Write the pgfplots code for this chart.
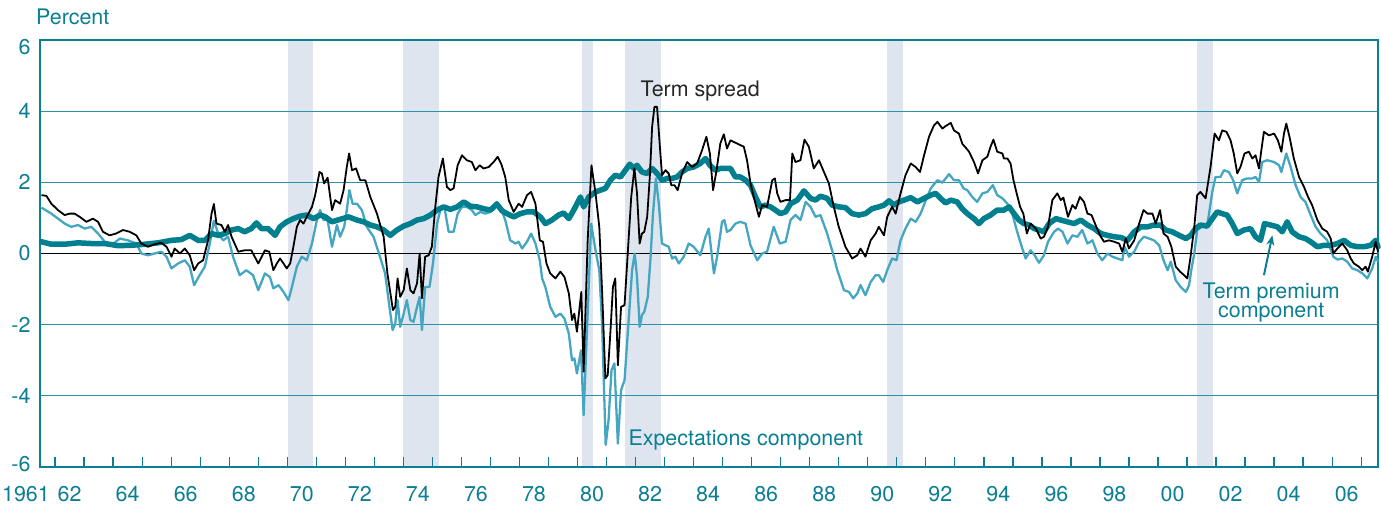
\documentclass[border=0pt]{standalone}
\usepackage{fontspec}
\setmainfont{TeX Gyre Heros}
\usepackage{pgfplots}
\pgfplotsset{compat=1.18}
\usetikzlibrary{arrows.meta}
\definecolor{tealA}{HTML}{0A7E92}
\definecolor{gridc}{HTML}{2A93A8}
\definecolor{premc}{HTML}{007F8E}
\definecolor{expc}{HTML}{45A6C1}
\definecolor{bandc}{HTML}{DEE5EE}
\newcommand{\lf}{\fontsize{21.5}{25}\selectfont}
\begin{document}
\begin{tikzpicture}
\begin{axis}[
  set layers,
  scale only axis,
  width=1338bp, height=427bp,
  xmin=1961.48, xmax=2007.58,
  ymin=-6, ymax=6,
  clip=false,
  no markers,
  axis line style={draw=tealA, line width=2.8bp},
  xtick={1962,1963,...,2007},
  xticklabels={},
  xtick pos=left,
  tick align=inside,
  major tick length=10bp,
  xtick style={draw=tealA, line width=1.3bp},
  extra x ticks={1962.5,1964.5,1966.5,1968.5,1970.5,1972.5,1974.5,1976.5,1978.5,1980.5,1982.5,1984.5,1986.5,1988.5,1990.5,1992.5,1994.5,1996.5,1998.5,2000.5,2002.5,2004.5,2006.5},
  extra x tick labels={62,64,66,68,70,72,74,76,78,80,82,84,86,88,90,92,94,96,98,00,02,04,06},
  extra x tick style={major tick length=0pt, xticklabel style={anchor=base, yshift=-34bp}},
  ytick={-6,-4,-2,0,2,4,6},
  yticklabels={\raisebox{3bp}{-6},-4,-2,0,2,4,\raisebox{-7bp}{6}},
  ytick pos=left,
  ytick style={draw=none},
  yticklabel style={anchor=base east, xshift=-6bp, yshift=-7.5bp},
  ticklabel style={font=\lf, text=tealA},
  ymajorgrids,
  grid style={draw=gridc, line width=1.2bp},
  extra y ticks={0},
  extra y tick labels={},
  extra y tick style={grid style={draw=black, line width=1.8bp}},
]
% recession bands
\addplot[fill=bandc, draw=none, on layer=axis background] coordinates {(1970.04,-6) (1970.04,6) (1970.87,6) (1970.87,-6)};
\addplot[fill=bandc, draw=none, on layer=axis background] coordinates {(1973.97,-6) (1973.97,6) (1975.21,6) (1975.21,-6)};
\addplot[fill=bandc, draw=none, on layer=axis background] coordinates {(1980.16,-6) (1980.16,6) (1980.54,6) (1980.54,-6)};
\addplot[fill=bandc, draw=none, on layer=axis background] coordinates {(1981.65,-6) (1981.65,6) (1982.89,6) (1982.89,-6)};
\addplot[fill=bandc, draw=none, on layer=axis background] coordinates {(1990.65,-6) (1990.65,6) (1991.22,6) (1991.22,-6)};
\addplot[fill=bandc, draw=none, on layer=axis background] coordinates {(2001.33,-6) (2001.33,6) (2001.90,6) (2001.90,-6)};
% Expectations component
\addplot[expc, line width=2.3bp, line join=round] table {
x y
1961.53 1.29
1961.87 1.12
1962.10 0.98
1962.33 0.84
1962.56 0.75
1962.79 0.80
1963.02 0.70
1963.25 0.75
1963.48 0.56
1963.71 0.33
1963.94 0.23
1964.23 0.42
1964.51 0.37
1964.80 0.28
1964.97 0.00
1965.20 -0.05
1965.43 0.00
1965.66 0.05
1965.84 -0.09
1966.01 -0.42
1966.24 -0.28
1966.47 -0.19
1966.64 -0.37
1966.79 -0.89
1966.98 -0.61
1967.16 -0.37
1967.33 0.28
1967.47 0.92
1967.62 0.56
1967.79 0.37
1967.96 0.47
1968.13 -0.09
1968.36 -0.61
1968.59 -0.47
1968.82 -0.61
1969.00 -1.03
1969.23 -0.56
1969.40 -0.66
1969.52 -0.98
1969.70 -0.89
1969.87 -1.08
1970.04 -1.31
1970.16 -0.94
1970.33 -0.37
1970.50 -0.09
1970.67 -0.19
1970.85 0.28
1971.02 0.94
1971.13 1.22
1971.25 0.94
1971.39 0.94
1971.54 0.19
1971.71 0.80
1971.82 0.47
1971.96 0.75
1972.05 1.22
1972.14 1.78
1972.25 1.40
1972.40 1.40
1972.57 1.22
1972.74 0.75
1972.97 0.47
1973.14 0.05
1973.37 -0.56
1973.52 -1.50
1973.63 -2.15
1973.72 -1.97
1973.80 -1.31
1973.89 -2.06
1974.01 -1.69
1974.12 -1.31
1974.24 -1.87
1974.35 -1.92
1974.47 -1.50
1974.56 -1.22
1974.64 -2.15
1974.75 -0.94
1974.90 -0.94
1975.02 -0.28
1975.16 0.84
1975.30 1.31
1975.41 1.31
1975.56 0.61
1975.73 0.61
1975.87 1.12
1976.02 1.31
1976.19 1.31
1976.36 1.22
1976.48 1.08
1976.65 1.17
1976.82 1.12
1977.00 1.17
1977.22 1.45
1977.34 1.31
1977.51 0.94
1977.68 0.37
1977.86 0.28
1977.97 0.33
1978.09 0.14
1978.26 0.33
1978.40 0.56
1978.55 0.28
1978.70 -0.19
1978.78 -0.70
1978.89 -0.94
1979.06 -1.50
1979.24 -1.78
1979.41 -1.69
1979.55 -1.83
1979.70 -2.25
1979.81 -3.00
1979.89 -2.95
1979.98 -3.37
1980.12 -2.72
1980.21 -4.54
1980.33 -2.06
1980.47 0.84
1980.62 0.09
1980.75 -0.47
1980.85 -2.06
1980.97 -5.38
1981.07 -4.68
1981.17 -3.28
1981.27 -3.09
1981.39 -5.34
1981.50 -3.84
1981.62 -3.56
1981.73 -2.25
1981.88 -0.47
1981.97 0.00
1982.05 -0.66
1982.14 -2.06
1982.22 -1.73
1982.30 -1.64
1982.42 -1.22
1982.51 -0.19
1982.60 1.12
1982.70 2.11
1982.80 1.40
1982.91 0.28
1983.03 0.23
1983.14 0.19
1983.26 -0.14
1983.37 -0.09
1983.49 -0.28
1983.66 -0.09
1983.83 0.28
1984.00 0.19
1984.23 -0.05
1984.41 0.47
1984.52 0.70
1984.70 -0.56
1984.81 -0.09
1984.98 0.89
1985.06 0.94
1985.15 0.61
1985.27 0.66
1985.44 0.84
1985.61 0.89
1985.79 0.84
1985.96 0.23
1986.19 -0.19
1986.36 0.00
1986.53 0.05
1986.76 0.75
1986.97 0.28
1987.17 0.33
1987.34 0.94
1987.51 1.08
1987.68 0.94
1987.86 1.45
1988.03 1.31
1988.20 1.03
1988.37 1.08
1988.60 0.56
1988.77 0.09
1988.95 -0.47
1989.18 -1.03
1989.35 -1.08
1989.50 -1.26
1989.64 -1.12
1989.75 -0.89
1989.92 -1.17
1990.10 -0.80
1990.27 -0.61
1990.38 -0.61
1990.53 -0.80
1990.67 -0.47
1990.84 -0.14
1990.99 -0.19
1991.13 0.37
1991.30 0.70
1991.48 0.98
1991.65 0.89
1991.82 1.12
1992.00 1.50
1992.17 1.83
1992.40 2.06
1992.57 1.99
1992.80 2.23
1992.97 2.06
1993.14 2.06
1993.30 1.83
1993.43 1.78
1993.60 1.59
1993.77 1.45
1993.95 1.69
1994.12 1.73
1994.31 1.92
1994.46 1.64
1994.64 1.55
1994.81 1.40
1994.98 1.12
1995.13 0.66
1995.27 0.28
1995.44 -0.14
1995.61 0.09
1995.75 -0.05
1995.90 -0.26
1996.07 -0.05
1996.21 0.33
1996.42 0.61
1996.56 0.70
1996.71 0.61
1996.88 0.28
1997.05 0.51
1997.22 0.47
1997.39 0.66
1997.57 0.28
1997.74 0.37
1997.91 0.00
1998.08 -0.19
1998.26 0.00
1998.43 -0.09
1998.60 -0.14
1998.77 -0.19
1998.85 0.19
1999.00 -0.09
1999.18 0.05
1999.35 0.33
1999.52 0.47
1999.69 0.42
1999.86 0.37
2000.04 0.23
2000.19 -0.19
2000.33 -0.47
2000.44 -0.23
2000.61 -0.75
2000.78 -0.94
2000.96 -1.08
2001.07 -0.89
2001.15 -0.45
2001.25 0.00
2001.35 0.66
2001.52 0.75
2001.69 0.75
2001.87 1.73
2001.98 2.15
2002.15 2.15
2002.27 2.34
2002.44 2.29
2002.59 2.06
2002.73 1.69
2002.90 2.06
2003.07 2.11
2003.25 2.11
2003.36 2.15
2003.48 2.01
2003.59 2.57
2003.76 2.62
2004.00 2.57
2004.17 2.48
2004.25 2.29
2004.42 2.81
2004.57 2.43
2004.74 1.92
2004.91 1.59
2005.08 1.45
2005.26 1.08
2005.43 0.75
2005.60 0.56
2005.83 0.37
2006.04 -0.09
2006.18 -0.17
2006.35 -0.14
2006.52 -0.23
2006.69 -0.42
2006.87 -0.47
2007.04 -0.56
2007.21 -0.70
2007.38 -0.42
2007.50 -0.09
2007.58 -0.23
};
% Term premium component
\addplot[premc, line width=5.5bp, line join=round, line cap=round] table {
x y
1961.53 0.33
1961.87 0.26
1962.33 0.26
1962.79 0.30
1963.25 0.28
1963.71 0.28
1964.17 0.22
1964.63 0.23
1965.09 0.26
1965.55 0.30
1966.01 0.37
1966.35 0.39
1966.64 0.51
1966.93 0.37
1967.16 0.37
1967.39 0.56
1967.62 0.51
1967.85 0.56
1968.08 0.66
1968.31 0.70
1968.53 0.61
1968.76 0.70
1968.94 0.86
1969.11 0.70
1969.34 0.70
1969.58 0.51
1969.75 0.75
1969.98 0.89
1970.21 0.98
1970.44 1.05
1970.67 1.08
1970.90 0.98
1971.13 1.08
1971.31 1.03
1971.54 0.89
1971.82 0.96
1972.11 1.03
1972.40 0.94
1972.63 0.89
1972.86 0.80
1973.09 0.75
1973.32 0.66
1973.55 0.51
1973.78 0.66
1974.01 0.77
1974.24 0.84
1974.47 0.94
1974.70 0.98
1974.93 1.08
1975.16 1.22
1975.39 1.31
1975.62 1.24
1975.85 1.31
1976.08 1.45
1976.31 1.33
1976.54 1.31
1976.76 1.26
1977.00 1.22
1977.22 1.39
1977.40 1.20
1977.57 1.12
1977.80 1.03
1978.03 1.12
1978.26 1.17
1978.49 1.17
1978.72 1.03
1978.89 0.84
1979.12 0.94
1979.35 1.08
1979.52 1.14
1979.70 0.98
1979.87 1.22
1980.10 1.59
1980.21 1.31
1980.39 1.59
1980.62 1.73
1980.79 1.78
1980.96 1.83
1981.13 2.06
1981.30 2.20
1981.48 2.15
1981.65 2.34
1981.80 2.51
1981.94 2.39
1982.05 2.48
1982.22 2.29
1982.40 2.25
1982.57 2.39
1982.74 2.25
1982.91 2.06
1983.09 2.11
1983.26 2.11
1983.43 2.15
1983.60 2.29
1983.78 2.39
1984.00 2.43
1984.23 2.53
1984.41 2.67
1984.56 2.48
1984.75 2.34
1984.92 2.39
1985.15 2.39
1985.27 2.39
1985.44 2.15
1985.61 2.15
1985.79 2.06
1985.96 1.92
1986.13 1.59
1986.30 1.31
1986.48 1.36
1986.65 1.31
1986.82 1.22
1986.99 1.12
1987.17 1.17
1987.34 1.40
1987.57 1.50
1987.80 1.76
1988.03 1.55
1988.20 1.50
1988.37 1.61
1988.60 1.55
1988.77 1.36
1989.00 1.31
1989.23 1.29
1989.46 1.12
1989.69 1.08
1989.92 1.12
1990.15 1.26
1990.38 1.31
1990.56 1.36
1990.73 1.48
1990.90 1.36
1991.07 1.45
1991.25 1.50
1991.48 1.57
1991.71 1.45
1991.94 1.55
1992.17 1.64
1992.34 1.69
1992.51 1.55
1992.68 1.42
1992.86 1.50
1993.08 1.45
1993.25 1.26
1993.43 1.12
1993.66 0.98
1993.83 0.84
1994.00 0.98
1994.23 1.08
1994.46 1.22
1994.69 1.22
1994.87 1.31
1995.04 1.12
1995.21 0.94
1995.38 0.84
1995.56 0.80
1995.73 0.70
1995.90 0.66
1996.07 0.61
1996.25 0.84
1996.48 0.98
1996.65 0.94
1996.88 0.89
1997.11 0.84
1997.34 0.94
1997.57 0.80
1997.80 0.70
1998.03 0.56
1998.26 0.51
1998.49 0.47
1998.72 0.45
1998.95 0.37
1999.18 0.61
1999.41 0.75
1999.64 0.75
1999.86 0.80
2000.09 0.80
2000.26 0.66
2000.49 0.61
2000.73 0.51
2000.96 0.42
2001.13 0.51
2001.29 0.70
2001.46 0.80
2001.69 0.77
2001.87 0.98
2002.04 1.17
2002.21 1.12
2002.38 1.08
2002.56 0.84
2002.73 0.56
2002.96 0.66
2003.19 0.70
2003.36 0.47
2003.53 0.37
2003.67 0.84
2003.88 0.80
2004.11 0.75
2004.28 0.61
2004.45 0.89
2004.62 0.61
2004.86 0.47
2005.08 0.42
2005.26 0.33
2005.49 0.19
2005.72 0.23
2005.95 0.23
2006.18 0.28
2006.41 0.37
2006.64 0.23
2006.87 0.19
2007.10 0.19
2007.33 0.23
2007.50 0.37
2007.58 0.19
};
% Term spread
\addplot[black, line width=1.8bp, line join=round] table {
x y
1961.53 1.64
1961.70 1.62
1961.87 1.40
1962.10 1.22
1962.33 1.08
1962.50 1.12
1962.67 1.12
1962.85 1.03
1963.08 0.89
1963.30 0.98
1963.48 0.89
1963.65 0.61
1963.88 0.51
1964.10 0.56
1964.34 0.66
1964.57 0.61
1964.80 0.51
1964.97 0.28
1965.20 0.19
1965.43 0.26
1965.66 0.30
1965.84 0.19
1966.01 -0.09
1966.12 0.14
1966.30 0.00
1966.47 0.14
1966.64 -0.05
1966.79 -0.47
1966.93 -0.28
1967.10 -0.19
1967.27 0.37
1967.39 1.12
1967.47 1.39
1967.56 0.84
1967.73 0.80
1967.85 0.61
1967.96 0.80
1968.08 0.47
1968.31 0.05
1968.53 0.09
1968.76 0.09
1969.00 -0.28
1969.23 0.09
1969.38 0.05
1969.52 -0.47
1969.64 -0.28
1969.75 -0.14
1969.87 -0.28
1969.98 -0.42
1970.10 -0.28
1970.21 0.19
1970.33 0.75
1970.44 0.94
1970.56 0.84
1970.67 1.03
1970.85 1.31
1970.96 1.64
1971.11 2.29
1971.19 2.25
1971.27 1.97
1971.39 2.13
1971.54 1.22
1971.65 1.50
1971.82 1.40
1971.94 1.78
1972.05 2.43
1972.13 2.81
1972.23 2.34
1972.37 2.39
1972.51 2.06
1972.69 2.06
1972.86 1.59
1973.09 1.12
1973.32 0.47
1973.45 -0.56
1973.64 -1.59
1973.72 -1.50
1973.80 -0.70
1973.89 -1.22
1974.01 -1.03
1974.12 -0.42
1974.24 -1.03
1974.35 -1.12
1974.47 -0.84
1974.56 0.00
1974.64 -1.26
1974.75 -0.09
1974.87 -0.05
1974.98 0.19
1975.10 1.31
1975.21 2.15
1975.36 2.67
1975.50 1.87
1975.62 1.78
1975.73 1.83
1975.87 2.48
1976.02 2.76
1976.19 2.62
1976.36 2.57
1976.48 2.34
1976.63 2.48
1976.76 2.39
1976.94 2.43
1977.11 2.57
1977.25 2.72
1977.38 2.50
1977.51 2.15
1977.63 1.50
1977.80 1.17
1977.97 1.40
1978.09 1.31
1978.26 1.64
1978.40 1.73
1978.55 1.40
1978.70 0.37
1978.81 0.33
1978.93 -0.28
1979.06 -0.56
1979.24 -0.70
1979.41 -0.51
1979.55 -0.66
1979.70 -1.12
1979.81 -1.87
1979.89 -1.69
1979.98 -2.20
1980.13 -1.08
1980.21 -3.32
1980.35 0.37
1980.48 2.48
1980.62 1.69
1980.75 0.75
1980.85 -1.12
1980.96 -3.51
1981.04 -3.42
1981.13 -2.25
1981.22 -0.94
1981.30 -0.70
1981.39 -3.14
1981.50 -1.50
1981.62 -1.45
1981.73 0.00
1981.85 1.59
1981.96 2.39
1982.05 1.69
1982.14 0.28
1982.22 0.56
1982.30 0.61
1982.40 1.03
1982.49 2.15
1982.57 3.56
1982.65 4.12
1982.74 4.12
1982.83 3.09
1982.91 2.20
1983.03 2.34
1983.14 2.25
1983.23 1.92
1983.34 1.92
1983.45 1.78
1983.60 2.25
1983.78 2.57
1983.95 2.43
1984.12 2.53
1984.29 2.90
1984.44 3.28
1984.56 2.81
1984.67 1.78
1984.79 2.34
1984.92 3.09
1985.04 3.35
1985.15 2.95
1985.27 3.18
1985.50 3.09
1985.73 3.00
1985.84 2.62
1985.96 1.97
1986.07 1.59
1986.25 1.03
1986.36 1.36
1986.53 1.31
1986.71 2.06
1986.80 2.11
1986.88 1.69
1986.99 1.45
1987.17 1.50
1987.32 1.50
1987.40 2.81
1987.51 2.57
1987.68 2.62
1987.82 3.20
1987.97 3.00
1988.14 2.39
1988.32 2.62
1988.49 2.29
1988.66 1.97
1988.83 1.31
1989.00 0.75
1989.23 0.19
1989.46 -0.14
1989.64 -0.05
1989.75 0.14
1989.92 -0.09
1990.10 0.37
1990.27 0.56
1990.38 0.75
1990.56 0.51
1990.67 1.03
1990.84 1.31
1990.96 1.12
1991.13 1.69
1991.30 2.20
1991.48 2.53
1991.65 2.43
1991.80 2.29
1991.94 2.76
1992.11 3.28
1992.28 3.60
1992.40 3.70
1992.57 3.51
1992.68 3.58
1992.86 3.67
1992.97 3.46
1993.14 3.37
1993.26 3.08
1993.40 2.95
1993.49 2.86
1993.66 2.57
1993.80 2.25
1993.95 2.62
1994.12 2.72
1994.23 3.00
1994.33 3.20
1994.46 2.86
1994.64 2.81
1994.69 2.67
1994.81 2.67
1994.92 2.53
1995.02 2.06
1995.13 1.69
1995.25 1.31
1995.36 1.12
1995.48 0.56
1995.61 0.84
1995.79 0.70
1995.96 0.42
1996.07 0.47
1996.21 0.75
1996.36 1.50
1996.53 1.69
1996.65 1.50
1996.74 1.57
1996.90 1.03
1997.05 1.36
1997.16 1.26
1997.31 1.59
1997.45 1.45
1997.57 1.12
1997.71 1.08
1997.85 0.80
1998.00 0.51
1998.14 0.33
1998.31 0.37
1998.49 0.33
1998.66 0.28
1998.77 0.05
1998.89 0.42
1999.00 0.14
1999.18 0.37
1999.35 0.84
1999.50 1.22
1999.64 1.12
1999.81 1.12
1999.92 0.84
2000.07 1.22
2000.19 0.56
2000.33 0.47
2000.46 0.19
2000.61 -0.37
2000.76 -0.51
2000.90 -0.61
2001.01 -0.70
2001.12 -0.10
2001.25 0.75
2001.35 1.64
2001.46 1.73
2001.64 1.55
2001.81 2.43
2001.95 3.37
2002.10 3.18
2002.21 3.46
2002.36 3.42
2002.50 3.18
2002.61 2.81
2002.73 2.25
2002.84 2.43
2002.98 2.81
2003.13 2.86
2003.25 2.67
2003.36 2.76
2003.48 2.39
2003.56 2.90
2003.65 3.42
2003.82 3.32
2004.00 3.37
2004.13 3.18
2004.25 2.86
2004.34 3.37
2004.42 3.65
2004.53 3.28
2004.68 2.67
2004.86 2.15
2005.03 1.87
2005.17 1.59
2005.31 1.36
2005.49 0.94
2005.66 0.70
2005.83 0.61
2005.95 0.42
2006.04 0.00
2006.18 0.14
2006.35 0.28
2006.52 0.09
2006.64 -0.14
2006.75 -0.28
2006.92 -0.37
2007.04 -0.47
2007.15 -0.37
2007.23 -0.51
2007.38 -0.09
2007.50 0.33
2007.58 0.05
};
% annotations
\node[anchor=base west, font=\lf, text=tealA, inner sep=0pt] at (axis cs:1961.48,6) [xshift=-4bp, yshift=15bp] {Percent};
\node[anchor=base east, font=\lf, text=tealA, inner sep=0pt] at (axis cs:1961.48,-6) [xshift=10bp, yshift=-34bp] {1961};
\node[anchor=base west, font=\lf, text=black!85, inner sep=0pt] at (axis cs:1982.17,4.42) {Term spread};
\node[anchor=base west, font=\lf, text=tealA, inner sep=0pt] at (axis cs:1981.75,-5.385) {Expectations component};
\node[anchor=base, font=\lf, text=tealA, inner sep=0pt] at (axis cs:2003.9,-1.256) {Term premium};
\node[anchor=base, font=\lf, text=tealA, inner sep=0pt] at (axis cs:2003.9,-1.80) {component};
\draw[-{Stealth[length=10bp,width=8bp]}, tealA, line width=2bp] (axis cs:2003.65,-0.61) -- (axis cs:2003.94,0.51);
% page extent
\path (rel axis cs:0,0) ++(-40bp,-38.5bp) coordinate (bbA);
\path (rel axis cs:1,1) ++(3bp,40bp) coordinate (bbB);
\end{axis}
\path (bbA) rectangle (bbB);
\end{tikzpicture}
\end{document}
